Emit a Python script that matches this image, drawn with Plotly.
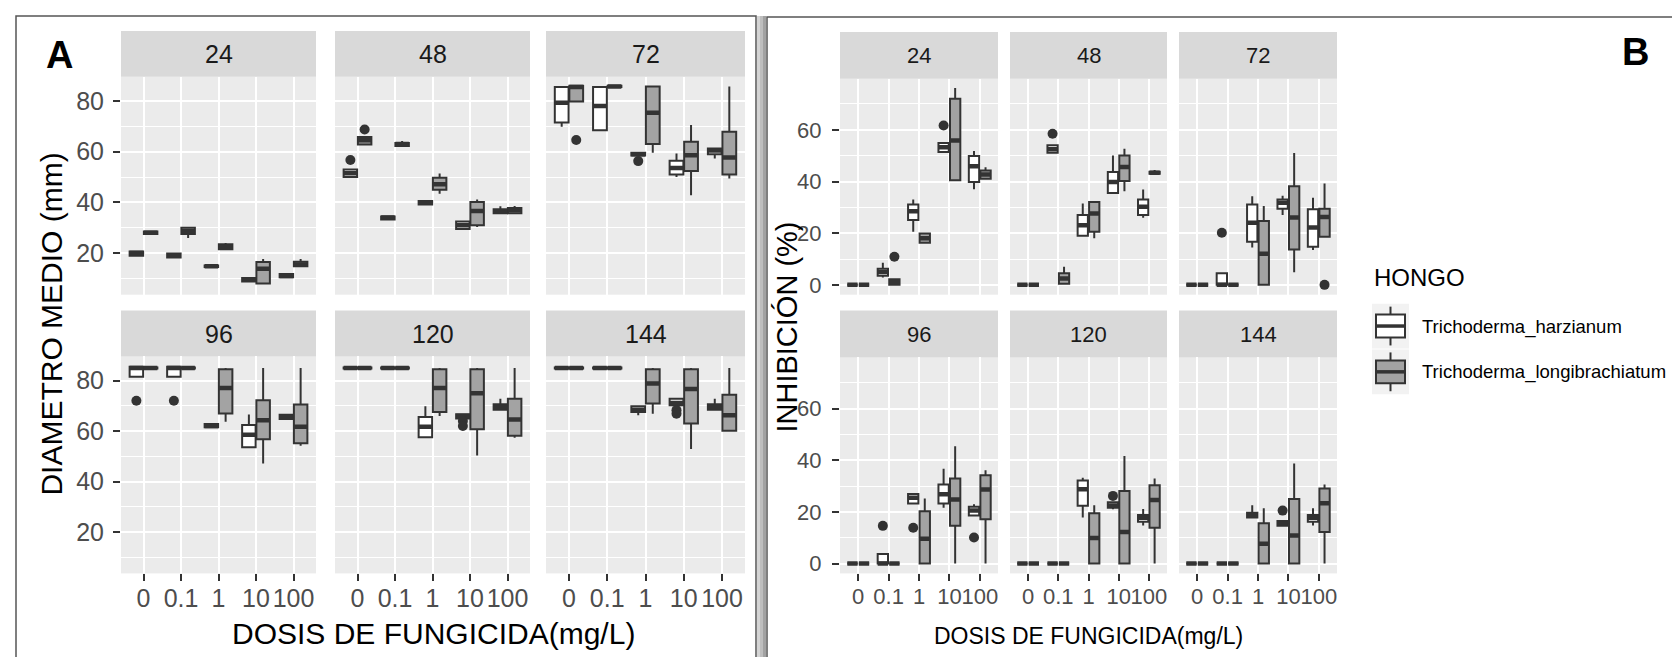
import plotly.graph_objects as go

W, H = 1680, 657

FACETS = ["24", "48", "72", "96", "120", "144"]
DOSES = ["0", "0.1", "1", "10", "100"]
SPECIES = ["Trichoderma_harzianum", "Trichoderma_longibrachiatum"]

# ---------------- Panel A : DIAMETRO MEDIO (mm) ----------------
# rows = facets (24,48,72,96,120,144), columns = doses (0,0.1,1,10,100)
A_H_Q1 = [[19.0, 18.3, 14.5, 8.8, 10.5], [50.0, 33.3, 39.2, 29.5, 35.7], [71.5, 68.5, 58.5, 51.0, 59.0],
          [81.5, 81.5, 61.5, 53.6, 64.8], [84.8, 84.8, 57.6, 65.0, 68.5], [84.8, 84.8, 67.6, 70.2, 68.5]]
A_H_MED = [[20.0, 19.0, 14.8, 9.5, 11.0], [51.5, 34.0, 40.0, 31.0, 36.5], [79.3, 78.0, 59.0, 53.6, 60.5],
           [85.0, 85.0, 62.0, 58.5, 65.7], [85.0, 85.0, 61.7, 66.0, 69.5], [85.0, 85.0, 68.5, 71.1, 69.5]]
A_H_Q3 = [[20.6, 19.8, 15.1, 10.2, 11.8], [53.0, 34.4, 40.6, 32.5, 37.3], [85.5, 85.5, 59.6, 56.4, 61.3],
          [85.5, 85.5, 62.8, 62.4, 66.5], [85.2, 85.2, 65.6, 66.7, 70.6], [85.2, 85.2, 69.8, 72.8, 70.6]]
A_H_LO = [[19.0, 18.3, 14.5, 8.8, 10.5], [50.0, 33.3, 39.2, 29.5, 35.7], [69.8, 68.5, 58.5, 50.0, 57.3],
          [81.5, 81.5, 61.5, 53.6, 64.8], [84.8, 84.8, 57.6, 65.0, 68.5], [84.8, 84.8, 66.3, 70.2, 68.5]]
A_H_HI = [[20.6, 19.8, 15.1, 10.2, 11.8], [53.0, 34.4, 40.6, 32.5, 38.5], [85.5, 85.5, 59.6, 59.3, 61.3],
          [85.5, 85.5, 62.8, 66.6, 66.5], [85.2, 85.2, 69.8, 66.7, 72.8], [85.2, 85.2, 69.8, 72.8, 72.8]]
A_H_OUT = [(1, 0, 56.7), (2, 2, 56.3), (3, 0, 72.0), (3, 1, 72.0), (4, 3, 64.0), (4, 3, 62.0),
           (5, 3, 68.3), (5, 3, 66.9)]

A_L_Q1 = [[27.5, 27.5, 21.5, 8.0, 14.8], [62.8, 62.3, 45.0, 31.0, 35.7], [79.8, 85.5, 63.0, 52.4, 51.0],
          [84.8, 84.8, 67.0, 56.8, 55.2], [84.8, 84.8, 67.6, 60.7, 58.2], [84.8, 84.8, 70.9, 63.0, 60.1]]
A_L_MED = [[28.0, 28.6, 22.5, 13.8, 15.5], [64.5, 63.0, 47.2, 36.6, 37.0], [85.5, 85.7, 75.4, 58.6, 57.7],
           [85.0, 85.0, 77.1, 64.3, 61.7], [85.0, 85.0, 77.1, 75.0, 64.6], [85.0, 85.0, 78.9, 76.7, 66.3]]
A_L_Q3 = [[28.5, 30.0, 23.5, 16.5, 16.6], [65.8, 63.4, 49.7, 40.2, 37.8], [86.0, 86.0, 85.7, 63.9, 67.9],
          [85.2, 85.2, 84.5, 72.2, 70.5], [85.2, 85.2, 84.5, 84.5, 72.8], [85.2, 85.2, 84.5, 84.5, 74.4]]
A_L_LO = [[27.5, 26.0, 21.5, 8.0, 14.8], [62.8, 62.3, 43.4, 30.3, 35.7], [79.8, 85.5, 59.6, 42.8, 49.4],
          [84.8, 84.8, 63.7, 47.2, 54.2], [84.8, 84.8, 66.0, 50.3, 57.4], [84.8, 84.8, 66.9, 52.9, 60.1]]
A_L_HI = [[28.5, 30.0, 24.0, 17.7, 17.7], [65.8, 64.2, 51.4, 41.1, 38.6], [86.0, 86.0, 85.7, 70.5, 85.7],
          [85.2, 85.2, 85.0, 85.0, 85.0], [85.2, 85.2, 85.0, 85.0, 85.0], [85.2, 85.2, 85.0, 85.0, 85.0]]
A_L_OUT = [(1, 0, 68.8), (2, 0, 64.6)]

# ---------------- Panel B : INHIBICION (%) ----------------
B_H_Q1 = [[0, 3.5, 25.1, 51.4, 39.8], [0, 51.1, 19.0, 35.6, 27.0], [0, 0, 16.7, 29.5, 14.8],
          [0, 0, 23.3, 23.3, 18.6], [0, 0, 22.4, 21.6, 16.2], [0, 0, 17.8, 14.6, 16.2]]
B_H_MED = [[0, 5.0, 28.5, 53.3, 45.9], [0, 52.5, 23.1, 39.8, 30.2], [0, 0, 24.0, 31.8, 22.2],
           [0, 0, 25.5, 26.8, 20.5], [0, 0, 28.8, 22.5, 17.7], [0, 0, 18.8, 15.5, 17.7]]
B_H_Q3 = [[0, 6.2, 31.1, 54.9, 49.9], [0, 54.0, 27.0, 43.7, 33.0], [0, 4.5, 31.1, 33.0, 29.3],
          [0, 3.7, 26.9, 30.6, 22.0], [0, 0, 32.2, 23.7, 18.8], [0, 0, 19.7, 16.5, 18.8]]
B_H_LO = [[0, 2.9, 20.6, 51.4, 37.0], [0, 51.1, 19.0, 35.6, 26.0], [0, 0, 14.5, 27.0, 13.5],
          [0, 0, 23.3, 21.6, 18.6], [0, 0, 17.8, 21.0, 14.7], [0, 0, 17.8, 14.6, 14.7]]
B_H_HI = [[0, 8.6, 33.0, 54.9, 51.8], [0, 54.0, 31.5, 50.1, 36.9], [0, 4.5, 34.3, 34.5, 33.7],
          [0, 3.7, 26.9, 36.7, 23.0], [0, 0, 33.2, 23.7, 21.1], [0, 0, 22.6, 16.5, 21.4]]
B_H_OUT = [(0, 3, 61.7), (1, 1, 58.5), (2, 1, 20.2), (3, 1, 14.6), (3, 2, 13.9), (3, 4, 10.1),
           (4, 3, 26.2), (5, 3, 20.5)]

B_L_Q1 = [[0, 0, 16.3, 40.5, 41.1], [0, 0.4, 20.6, 40.2, 43.0], [0, 0, 0, 13.7, 18.6],
          [0, 0, 0, 14.6, 17.2], [0, 0, 0, 0, 13.9], [0, 0, 0, 0, 12.2]]
B_L_MED = [[0, 1.2, 18.0, 55.9, 42.7], [0, 2.5, 27.6, 45.6, 43.4], [0, 0, 12.0, 26.1, 26.3],
           [0, 0, 9.6, 24.8, 28.7], [0, 0, 9.9, 12.2, 24.6], [0, 0, 7.7, 10.9, 23.4]]
B_L_Q3 = [[0, 2.2, 19.9, 72.0, 44.3], [0, 4.5, 32.1, 50.1, 43.8], [0, 0, 24.7, 38.2, 29.5],
          [0, 0, 20.3, 32.9, 34.2], [0, 0, 19.5, 28.1, 30.3], [0, 0, 15.6, 25.0, 29.1]]
B_L_LO = [[0, 0, 16.3, 40.5, 41.1], [0, 0.4, 18.0, 36.2, 43.0], [0, 0, 0, 4.9, 18.6],
          [0, 0, 0, 0, 0], [0, 0, 0, 0, 0], [0, 0, 0, 0, 0]]
B_L_HI = [[0, 2.2, 19.9, 76.2, 45.5], [0, 7.0, 32.1, 52.7, 44.5], [0, 0, 30.5, 51.0, 39.2],
          [0, 0, 25.2, 45.4, 36.1], [0, 0, 22.6, 41.6, 32.9], [0, 0, 21.4, 38.7, 30.6]]
B_L_OUT = [(0, 1, 10.9), (2, 4, 0.0)]

FILLS = ["#FFFFFF", "#A3A3A3"]
LINE = "#333333"
FONT = "Liberation Sans, Arial, sans-serif"


def fx(p):
    return p / W


def fy(p):
    return 1 - p / H


panels = [
    dict(cols=[(113, 308), (327, 522), (538, 737)], rows=[(69, 288), (350, 568)], strip=46,
         yrange=[3.6, 89.6], ytick=[20, 40, 60, 80], yminor=[10, 30, 50, 70],
         tickfont=25, stripfont=25, bw=0.36, off=0.19, ystand=4,
         series=[(A_H_Q1, A_H_MED, A_H_Q3, A_H_LO, A_H_HI, A_H_OUT),
                 (A_L_Q1, A_L_MED, A_L_Q3, A_L_LO, A_L_HI, A_L_OUT)],
         xtitle=("DOSIS DE FUNGICIDA(mg/L)", 425, 628, 30),
         ytitle=("DIAMETRO MEDIO (mm)", 44, 318, 30)),
    dict(cols=[(832, 990), (1002, 1159), (1171, 1329)], rows=[(71, 288), (351, 568)], strip=47,
         yrange=[-3.8, 79.8], ytick=[0, 20, 40, 60], yminor=[10, 30, 50, 70],
         tickfont=22, stripfont=22, bw=0.34, off=0.19, ystand=6,
         series=[(B_H_Q1, B_H_MED, B_H_Q3, B_H_LO, B_H_HI, B_H_OUT),
                 (B_L_Q1, B_L_MED, B_L_Q3, B_L_LO, B_L_HI, B_L_OUT)],
         xtitle=("DOSIS DE FUNGICIDA(mg/L)", 1080, 631, 23),
         ytitle=("INHIBICIÓN (%)", 779, 321, 29)),
]

fig = go.Figure()
layout = {}
shapes = []
annotations = []

n = 0
for P in panels:
    for k, facet in enumerate(FACETS):
        n += 1
        r, c = divmod(k, 3)
        x0, x1 = P["cols"][c]
        y0, y1 = P["rows"][r]
        xname = "xaxis" if n == 1 else f"xaxis{n}"
        yname = "yaxis" if n == 1 else f"yaxis{n}"
        xref = "x" if n == 1 else f"x{n}"
        yref = "y" if n == 1 else f"y{n}"
        bottom = (r == 1)
        left = (c == 0)
        layout[xname] = dict(
            domain=[fx(x0), fx(x1)], anchor=yref, range=[0.4, 5.6],
            tickvals=[1, 2, 3, 4, 5], ticktext=DOSES, tickangle=0,
            showgrid=True, gridcolor="white", gridwidth=2, zeroline=False, showline=False,
            ticks="outside" if bottom else "", ticklen=7, tickwidth=2, tickcolor=LINE,
            showticklabels=bottom, ticklabelstandoff=-4,
            tickfont=dict(family=FONT, size=P["tickfont"], color="#4D4D4D"),
            fixedrange=True)
        layout[yname] = dict(
            domain=[fy(y1), fy(y0)], anchor=xref, range=P["yrange"],
            tickvals=P["ytick"], showgrid=True, gridcolor="white", gridwidth=2,
            zeroline=False, showline=False,
            minor=dict(tickvals=P["yminor"], showgrid=True, gridcolor="white", gridwidth=1, ticks=""),
            ticks="outside" if left else "", ticklen=7, tickwidth=2, tickcolor=LINE,
            showticklabels=left, ticklabelstandoff=P["ystand"],
            tickfont=dict(family=FONT, size=P["tickfont"], color="#4D4D4D"),
            fixedrange=True)
        # strip
        shapes.append(dict(type="rect", xref="paper", yref="paper",
                           x0=fx(x0), x1=fx(x1), y0=fy(y0), y1=fy(y0 - P["strip"]),
                           fillcolor="#D9D9D9", line=dict(width=0), layer="below"))
        annotations.append(dict(text=facet, xref="paper", yref="paper",
                                x=fx((x0 + x1) / 2), y=fy(y0 - P["strip"] / 2),
                                showarrow=False, xanchor="center", yanchor="middle",
                                font=dict(family=FONT, size=P["stripfont"], color="#1A1A1A")))
        for s, (q1, med, q3, lo, hi, out) in enumerate(P["series"]):
            off = -P["off"] if s == 0 else P["off"]
            pos = [i + 1 + off for i in range(len(DOSES))]
            fig.add_trace(go.Box(
                x=pos, q1=q1[k], median=med[k], q3=q3[k],
                lowerfence=lo[k], upperfence=hi[k], width=P["bw"],
                fillcolor=FILLS[s], line=dict(color=LINE, width=2), whiskerwidth=0,
                boxpoints=False, showlegend=False, hoverinfo="skip",
                xaxis=xref, yaxis=yref))
            mx, my = [], []
            for i, p in enumerate(pos):
                mx += [p - P["bw"] / 2, p + P["bw"] / 2, None]
                my += [med[k][i], med[k][i], None]
            fig.add_trace(go.Scatter(x=mx, y=my, mode="lines",
                                     line=dict(color=LINE, width=4.5),
                                     showlegend=False, hoverinfo="skip",
                                     xaxis=xref, yaxis=yref))
            ox = [d + 1 + off for (f, d, v) in out if f == k]
            oy = [v for (f, d, v) in out if f == k]
            if ox:
                fig.add_trace(go.Scatter(x=ox, y=oy, mode="markers",
                                         marker=dict(color=LINE, size=10),
                                         showlegend=False, hoverinfo="skip",
                                         xaxis=xref, yaxis=yref))
    t, xx, yy, sz = P["xtitle"]
    annotations.append(dict(text=t, xref="paper", yref="paper", x=fx(xx), y=fy(yy),
                            showarrow=False, xanchor="center", yanchor="middle",
                            font=dict(family=FONT, size=sz, color="black")))
    t, xx, yy, sz = P["ytitle"]
    annotations.append(dict(text=t, xref="paper", yref="paper", x=fx(xx), y=fy(yy),
                            showarrow=False, xanchor="center", yanchor="middle", textangle=-90,
                            font=dict(family=FONT, size=sz, color="black")))

# frames around the two panels
shapes.append(dict(type="rect", xref="paper", yref="paper", x0=fx(8), x1=fx(748),
                   y0=fy(700), y1=fy(8), line=dict(color="#555555", width=1.5), layer="above"))
for (a, b, col) in [(749, 752, "#D4D4D4"), (752, 755, "#BEBEBE"), (755, 758, "#A2A2A2")]:
    shapes.append(dict(type="rect", xref="paper", yref="paper", x0=fx(a), x1=fx(b),
                       y0=fy(700), y1=fy(8), fillcolor=col, line=dict(width=0)))
shapes.append(dict(type="rect", xref="paper", yref="paper", x0=fx(759), x1=fx(1720),
                   y0=fy(700), y1=fy(9), line=dict(color="#555555", width=1.5)))

# panel letters
annotations.append(dict(text="<b>A</b>", xref="paper", yref="paper", x=fx(51), y=fy(47),
                        showarrow=False, xanchor="center", yanchor="middle",
                        font=dict(family=FONT, size=38, color="black")))
annotations.append(dict(text="<b>B</b>", xref="paper", yref="paper", x=fx(1627), y=fy(44),
                        showarrow=False, xanchor="center", yanchor="middle",
                        font=dict(family=FONT, size=38, color="black")))

# legend (ggplot style)
annotations.append(dict(text="HONGO", xref="paper", yref="paper", x=fx(1364), y=fy(271),
                        showarrow=False, xanchor="left", yanchor="middle",
                        font=dict(family=FONT, size=24, color="black")))
key_tops = [297, 343]
for s, name in enumerate(SPECIES):
    top = key_tops[s]
    shapes.append(dict(type="rect", xref="paper", yref="paper", x0=fx(1364), x1=fx(1401),
                       y0=fy(top + 45), y1=fy(top), fillcolor="#F2F2F2", line=dict(width=0)))
    cx = 1382.5
    shapes.append(dict(type="line", xref="paper", yref="paper", x0=fx(cx), x1=fx(cx),
                       y0=fy(top + 3), y1=fy(top + 42), line=dict(color=LINE, width=2)))
    shapes.append(dict(type="rect", xref="paper", yref="paper", x0=fx(1368), x1=fx(1397),
                       y0=fy(top + 34), y1=fy(top + 11), fillcolor=FILLS[s],
                       line=dict(color=LINE, width=2)))
    shapes.append(dict(type="line", xref="paper", yref="paper", x0=fx(1368), x1=fx(1397),
                       y0=fy(top + 22.5), y1=fy(top + 22.5), line=dict(color=LINE, width=3.5)))
    annotations.append(dict(text=name, xref="paper", yref="paper", x=fx(1412), y=fy(top + 23),
                            showarrow=False, xanchor="left", yanchor="middle",
                            font=dict(family=FONT, size=18.5, color="black")))

fig.update_layout(
    width=W, height=H, margin=dict(l=0, r=0, t=0, b=0),
    paper_bgcolor="white", plot_bgcolor="#EBEBEB",
    boxmode="overlay", showlegend=False,
    shapes=shapes, annotations=annotations, **layout)

fig.write_html("out.html", config={"displayModeBar": False})
